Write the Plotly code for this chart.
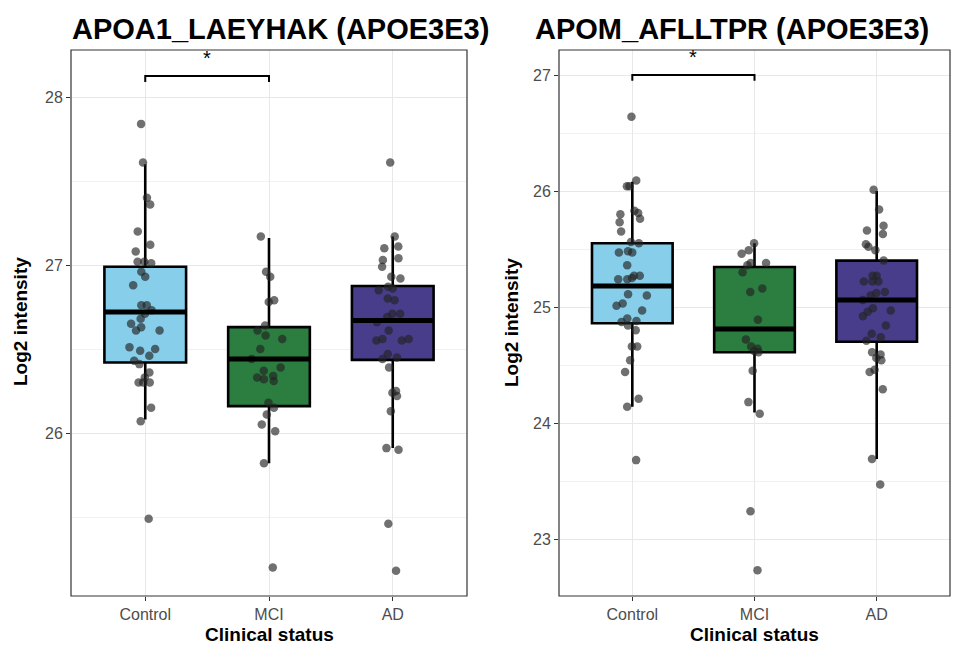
import plotly.graph_objects as go

W, H = 956, 647

groups = ["Control", "MCI", "AD"]
fills = ["#87CEEB", "#2B7D40", "#483D8B"]

titles = ["APOA1_LAEYHAK (APOE3E3)", "APOM_AFLLTPR (APOE3E3)"]

# ---- left panel (APOA1) ----
ctrl_L = [27.84, 27.61, 27.40, 27.36, 27.20, 27.12, 27.08, 27.02, 27.02, 27.01, 26.93, 26.96,
          26.88, 26.76, 26.76, 26.71, 26.73, 26.68, 26.65, 26.63, 26.61, 26.61, 26.51, 26.50,
          26.49, 26.46, 26.43, 26.41, 26.36, 26.33, 26.30, 26.30, 26.30, 26.15, 26.07, 25.49]
mci_L = [27.17, 26.96, 26.93, 26.78, 26.79, 26.64, 26.61, 26.56, 26.58, 26.50, 26.44, 26.39,
         26.34, 26.32, 26.37, 26.33, 26.31, 26.18, 26.15, 26.11, 26.05, 26.01, 25.82, 25.20]
ad_L = [27.61, 27.17, 27.11, 27.10, 27.04, 27.03, 26.99, 26.93, 26.92, 26.87, 26.86, 26.85,
        26.80, 26.79, 26.71, 26.71, 26.69, 26.66, 26.61, 26.56, 26.56, 26.55, 26.55, 26.47,
        26.45, 26.44, 26.39, 26.24, 26.22, 26.25, 26.13, 25.90, 25.91, 25.46, 25.18]
q1_L = [26.42, 26.16, 26.435]
med_L = [26.72, 26.44, 26.67]
q3_L = [26.99, 26.63, 26.875]
lo_L = [26.08, 25.82, 25.91]
hi_L = [27.60, 27.16, 27.17]
sig_bar_L = 28.125
sig_tip_L = 28.09

# ---- right panel (APOM) ----
ctrl_R = [26.64, 26.09, 26.04, 26.04, 25.83, 25.81, 25.76, 25.80, 25.73, 25.65, 25.55, 25.56,
          25.47, 25.48, 25.47, 25.36, 25.27, 25.24, 25.24, 25.27, 25.25, 25.10, 25.11, 25.01,
          25.03, 24.97, 24.87, 24.90, 24.88, 24.80, 24.84, 24.66, 24.66, 24.54, 24.44, 24.21,
          24.14, 23.68]
mci_R = [25.55, 25.49, 25.46, 25.38, 25.38, 25.36, 25.30, 25.16, 25.13, 24.89, 24.72, 24.66,
         24.61, 24.64, 24.62, 24.45, 24.18, 24.08, 23.24, 22.73]
ad_R = [26.01, 25.84, 25.70, 25.66, 25.63, 25.54, 25.52, 25.49, 25.40, 25.27, 25.27, 25.22,
        25.22, 25.22, 25.13, 25.12, 25.10, 25.06, 24.99, 24.97, 24.96, 24.92, 24.84, 24.77,
        24.74, 24.71, 24.59, 24.61, 24.54, 24.56, 24.46, 24.44, 24.29, 23.69, 23.47]
q1_R = [24.86, 24.61, 24.70]
med_R = [25.18, 24.81, 25.06]
q3_R = [25.55, 25.345, 25.40]
lo_R = [24.14, 24.09, 23.69]
hi_R = [26.08, 25.55, 26.00]
sig_bar_R = 27.0
sig_tip_R = 26.95

yticks_L = [26, 27, 28]
yticks_R = [23, 24, 25, 26, 27]

PANEL_TOP, PANEL_BOT = 50, 596

panels = [
    dict(pts=[ctrl_L, mci_L, ad_L], q1=q1_L, med=med_L, q3=q3_L, lo=lo_L, hi=hi_L,
         bar=sig_bar_L, tip=sig_tip_L, xa="x", ya="y", yticks=yticks_L,
         yrange=[28 - (PANEL_BOT - 97) / 168, 28 + (97 - PANEL_TOP) / 168]),
    dict(pts=[ctrl_R, mci_R, ad_R], q1=q1_R, med=med_R, q3=q3_R, lo=lo_R, hi=hi_R,
         bar=sig_bar_R, tip=sig_tip_R, xa="x2", ya="y2", yticks=yticks_R,
         yrange=[27 - (PANEL_BOT - 75) / 116, 27 + (75 - PANEL_TOP) / 116]),
]

BW = 0.66
fig = go.Figure()
for p in panels:
    for k in range(3):
        xk = k + 1
        fig.add_trace(go.Box(
            x=[xk], q1=[p["q1"][k]], median=[p["med"][k]], q3=[p["q3"][k]],
            lowerfence=[p["lo"][k]], upperfence=[p["hi"][k]],
            width=BW, fillcolor=fills[k], line=dict(color="black", width=2.6),
            whiskerwidth=0, boxpoints=False, xaxis=p["xa"], yaxis=p["ya"],
            showlegend=False, hoverinfo="skip"))
        fig.add_trace(go.Scatter(
            x=[xk - BW / 2, xk + BW / 2], y=[p["med"][k], p["med"][k]],
            mode="lines", line=dict(color="black", width=5),
            xaxis=p["xa"], yaxis=p["ya"], showlegend=False, hoverinfo="skip"))
    for k in range(3):
        xk = k + 1
        fig.add_trace(go.Box(
            x=[xk] * len(p["pts"][k]), y=p["pts"][k], width=BW,
            boxpoints="all", jitter=0.45, pointpos=0,
            fillcolor="rgba(0,0,0,0)", line=dict(color="rgba(0,0,0,0)", width=0),
            marker=dict(color="rgba(35,35,35,0.65)", size=8.5),
            xaxis=p["xa"], yaxis=p["ya"], showlegend=False, hoveron="points"))
    # significance bracket
    fig.add_trace(go.Scatter(
        x=[1, 1, 2, 2], y=[p["tip"], p["bar"], p["bar"], p["tip"]],
        mode="lines", line=dict(color="black", width=2),
        xaxis=p["xa"], yaxis=p["ya"], showlegend=False, hoverinfo="skip"))
    fig.add_annotation(x=1.5, y=p["bar"], xref=p["xa"], yref=p["ya"], text="*",
                       showarrow=False, yanchor="bottom", yshift=5,
                       font=dict(size=20, color="black", family="Liberation Sans, Arial"))
    # panel border
    fig.add_shape(type="rect", xref=p["xa"] + " domain", yref=p["ya"] + " domain",
                  x0=0, x1=1, y0=0, y1=1, line=dict(color="#333333", width=1.2), layer="above")

dom_y = [(H - PANEL_BOT) / H, (H - PANEL_TOP) / H]
dom_L = [71 / W, 467 / W]
dom_R = [559 / W, 950 / W]

axis_common = dict(showline=False, gridcolor="#E8E8E8", gridwidth=1.2, zeroline=False,
                   ticks="outside", ticklen=4, tickcolor="#333333", tickwidth=1,
                   tickfont=dict(size=16, color="#4D4D4D", family="Liberation Sans, Arial"),
                   automargin=False)

for i, (dom, p) in enumerate(zip([dom_L, dom_R], panels)):
    sx = "" if i == 0 else "2"
    fig.update_layout(**{
        "xaxis" + sx: dict(domain=dom, range=[0.4, 3.6], tickvals=[1, 2, 3], ticktext=groups,
                           anchor="y" + sx, **axis_common),
        "yaxis" + sx: dict(domain=dom_y, range=p["yrange"], tickvals=p["yticks"],
                           anchor="x" + sx,
                           minor=dict(dtick=0.5, tick0=0, showgrid=True, gridcolor="#F1F1F1",
                                      gridwidth=0.8, ticks=""),
                           **axis_common),
    })

font_b = dict(family="Liberation Sans, Arial", color="black")
# panel titles
for cx, t in zip([280, 732], titles):
    fig.add_annotation(x=cx / W, y=1 - 29 / H, xref="paper", yref="paper", text="<b>" + t + "</b>",
                       showarrow=False, font=dict(size=29, **font_b), xanchor="center", yanchor="middle")
# axis titles
for cx in [(71 + 467) / 2, (559 + 950) / 2]:
    fig.add_annotation(x=cx / W, y=1 - 634 / H, xref="paper", yref="paper",
                       text="<b>Clinical status</b>", showarrow=False,
                       font=dict(size=19, **font_b), xanchor="center", yanchor="middle")
for cx in [20, 511]:
    fig.add_annotation(x=cx / W, y=1 - 322 / H, xref="paper", yref="paper",
                       text="<b>Log2 intensity</b>", showarrow=False, textangle=-90,
                       font=dict(size=19, **font_b), xanchor="center", yanchor="middle")

fig.update_layout(width=W, height=H, margin=dict(l=0, r=0, t=0, b=0),
                  paper_bgcolor="white", plot_bgcolor="white", boxmode="overlay",
                  showlegend=False)

fig.write_html("out.html", config={"displayModeBar": False},
               post_script="document.body.style.margin='0';")
